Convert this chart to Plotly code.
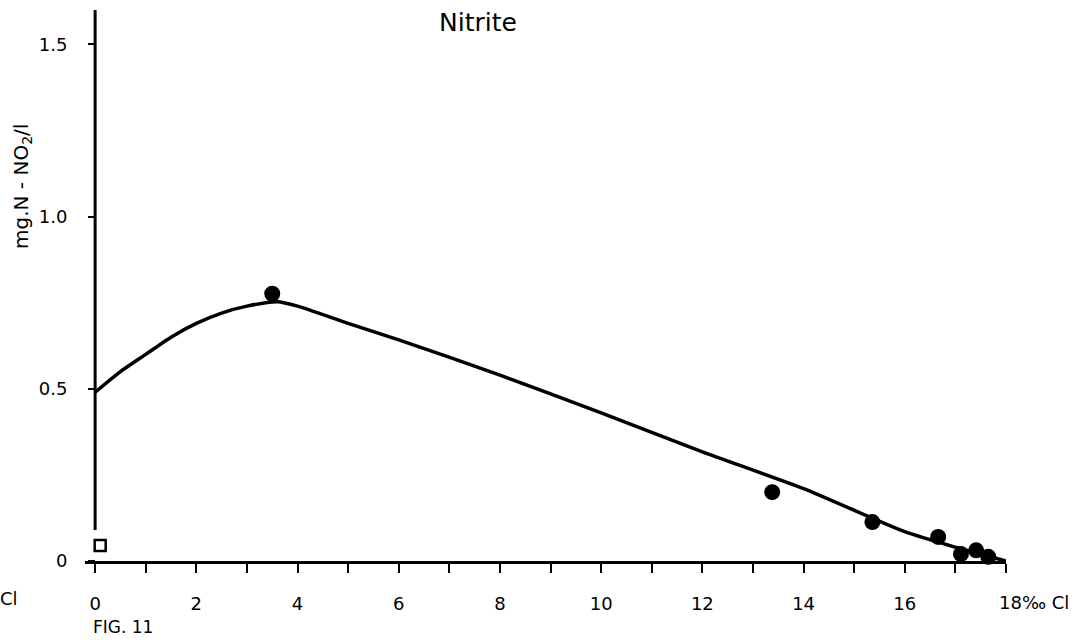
import plotly.graph_objects as go

# Measured points (filled circles)
chlor_pts = [3.5, 13.38, 15.36, 16.66, 17.11, 17.41, 17.65]
nitrite_pts = [0.776, 0.20, 0.113, 0.07, 0.02, 0.031, 0.012]

# Open square (fresh water)
chlor_sq = [0.1]
nitrite_sq = [0.045]

# Fitted curve
curve_x = [0, 0.5, 1, 1.5, 2, 2.5, 3, 3.6, 4, 5, 6, 8, 10, 12, 14, 16, 17, 18]
curve_y = [0.49, 0.55, 0.60, 0.65, 0.69, 0.72, 0.74, 0.753, 0.74, 0.69, 0.642,
           0.54, 0.43, 0.317, 0.21, 0.085, 0.04, 0.0]

x_ticks = list(range(0, 19))
x_ticktext = [str(v) if (v % 2 == 0 and v < 18) else " " for v in x_ticks]
y_ticks = [0, 0.5, 1.0, 1.5]
y_ticktext = ["0", "0.5", "1.0", "1.5"]

FONT = "DejaVu Sans"

ML, MR, MT, MB = 85, 72, 10, 79
W = 1078 - ML - MR
H = 640 - MT - MB


def px_x(p):
    return (p - ML) / W


def px_y(p):
    return (640 - MB - p) / H


fig = go.Figure()
fig.add_trace(go.Scatter(x=curve_x, y=curve_y, mode="lines",
                         line=dict(color="black", width=3.5, shape="spline", smoothing=0.6),
                         hoverinfo="skip", showlegend=False, cliponaxis=False))
fig.add_trace(go.Scatter(x=chlor_pts, y=nitrite_pts, mode="markers",
                         marker=dict(color="black", size=16, symbol="circle"),
                         showlegend=False, cliponaxis=False))
fig.add_trace(go.Scatter(x=chlor_sq, y=nitrite_sq, mode="markers",
                         marker=dict(color="white", size=11, symbol="square",
                                     line=dict(color="black", width=2.5)),
                         showlegend=False, cliponaxis=False))

# y-axis line
fig.add_shape(type="line", x0=0, x1=0, y0=0.09, y1=1.6, xref="x", yref="y",
              line=dict(color="black", width=3))

fig.update_layout(
    width=1078, height=640,
    margin=dict(l=ML, r=MR, t=MT, b=MB, autoexpand=False),
    paper_bgcolor="white", plot_bgcolor="white",
    font=dict(family=FONT, size=18, color="black"),
    xaxis=dict(range=[-0.2, 18], showgrid=False, zeroline=False, automargin=False,
               showline=True, linecolor="black", linewidth=3,
               ticks="outside", ticklen=9, tickwidth=2, tickcolor="black",
               tickvals=x_ticks, ticktext=x_ticktext, ticklabelstandoff=15,
               tickfont=dict(family=FONT, size=18)),
    yaxis=dict(range=[0, 1.6], showgrid=False, zeroline=False, showline=False,
               automargin=False, anchor="free", position=10 / W,
               ticks="outside", ticklen=7, tickwidth=2, tickcolor="black",
               tickvals=y_ticks, ticktext=y_ticktext, ticklabelstandoff=17,
               tickfont=dict(family=FONT, size=18)),
    annotations=[
        dict(text="Nitrite", x=px_x(478), y=px_y(22), xref="paper", yref="paper",
             showarrow=False, xanchor="center", yanchor="middle",
             font=dict(size=25, family=FONT)),
        dict(text="mg.N - NO<sub>2</sub>/l", x=px_x(22), y=px_y(187), xref="paper",
             yref="paper", xanchor="center", yanchor="middle",
             showarrow=False, textangle=-90, font=dict(size=20, family=FONT)),
        dict(text="18‰ Cl", x=px_x(997), y=px_y(602), xref="paper", yref="paper",
             xanchor="left", yanchor="middle", showarrow=False,
             font=dict(size=18, family=FONT)),
        dict(text="FIG. 11", x=px_x(91), y=px_y(627), xref="paper", yref="paper",
             xanchor="left", yanchor="middle", showarrow=False,
             font=dict(size=17, family=FONT)),
        dict(text="Cl", x=px_x(-2), y=px_y(598), xref="paper", yref="paper",
             xanchor="left", yanchor="middle", showarrow=False,
             font=dict(size=18, family=FONT)),
    ],
)

fig.write_html("out.html", config={"displayModeBar": False},
               post_script="document.body.style.margin='0px';")
